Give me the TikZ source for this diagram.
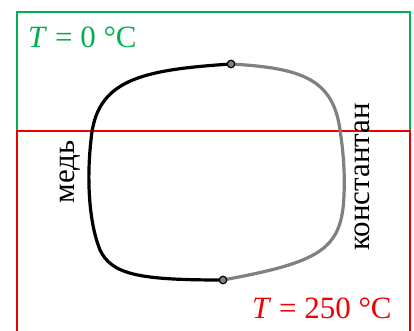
\documentclass[tikz,border=0pt]{standalone}
\usepackage{fontspec}
\setmainfont{Liberation Serif}
\definecolor{boxgreen}{RGB}{0,176,80}
\definecolor{boxred}{RGB}{240,0,0}
\definecolor{wiregrey}{RGB}{128,128,128}
\begin{document}
\begin{tikzpicture}[x=1pt,y=-1pt,
  frame/.style={line width=1.3pt},
  wire/.style={line width=3.2pt},
  junction/.style={circle,draw=black,fill=wiregrey,line width=1.2pt,inner sep=0pt,minimum size=7.5pt},
  lbl/.style={font=\fontsize{31}{37}\selectfont,inner sep=0pt}]
\useasboundingbox (0,0) rectangle (414,331);
\draw[frame,boxgreen] (17,12) rectangle (410,131);
\draw[frame,boxred] (17,345) -- (17,131) -- (410,131) -- (410,345);
\coordinate (top) at (231,64);
\coordinate (bot) at (223,280);
\draw[wire,black] (top) .. controls (140,70) and (96,80) .. (91,140)
  .. controls (87,175) and (88,220) .. (100,250)
  .. controls (112,275) and (140,280) .. (bot);
\draw[wire,wiregrey] (top) .. controls (300,68) and (333,78) .. (340,130)
  .. controls (343,150) and (345,170) .. (344,195)
  .. controls (342,250) and (320,262) .. (bot);
\node[junction] (j1) at (top) {};
\node[junction] (j2) at (bot) {};
\node[lbl,text=boxgreen,anchor=base west] (t0) at (28,48) {\textit{T} = 0 °C};
\node[lbl,text=boxred,anchor=base west] (t250) at (252,318) {\textit{T} = 250 °C};
\node[lbl,rotate=90] (cu) at (70,172) {медь};
\node[lbl,rotate=90] (kon) at (362,177) {константан};
\end{tikzpicture}
\end{document}
